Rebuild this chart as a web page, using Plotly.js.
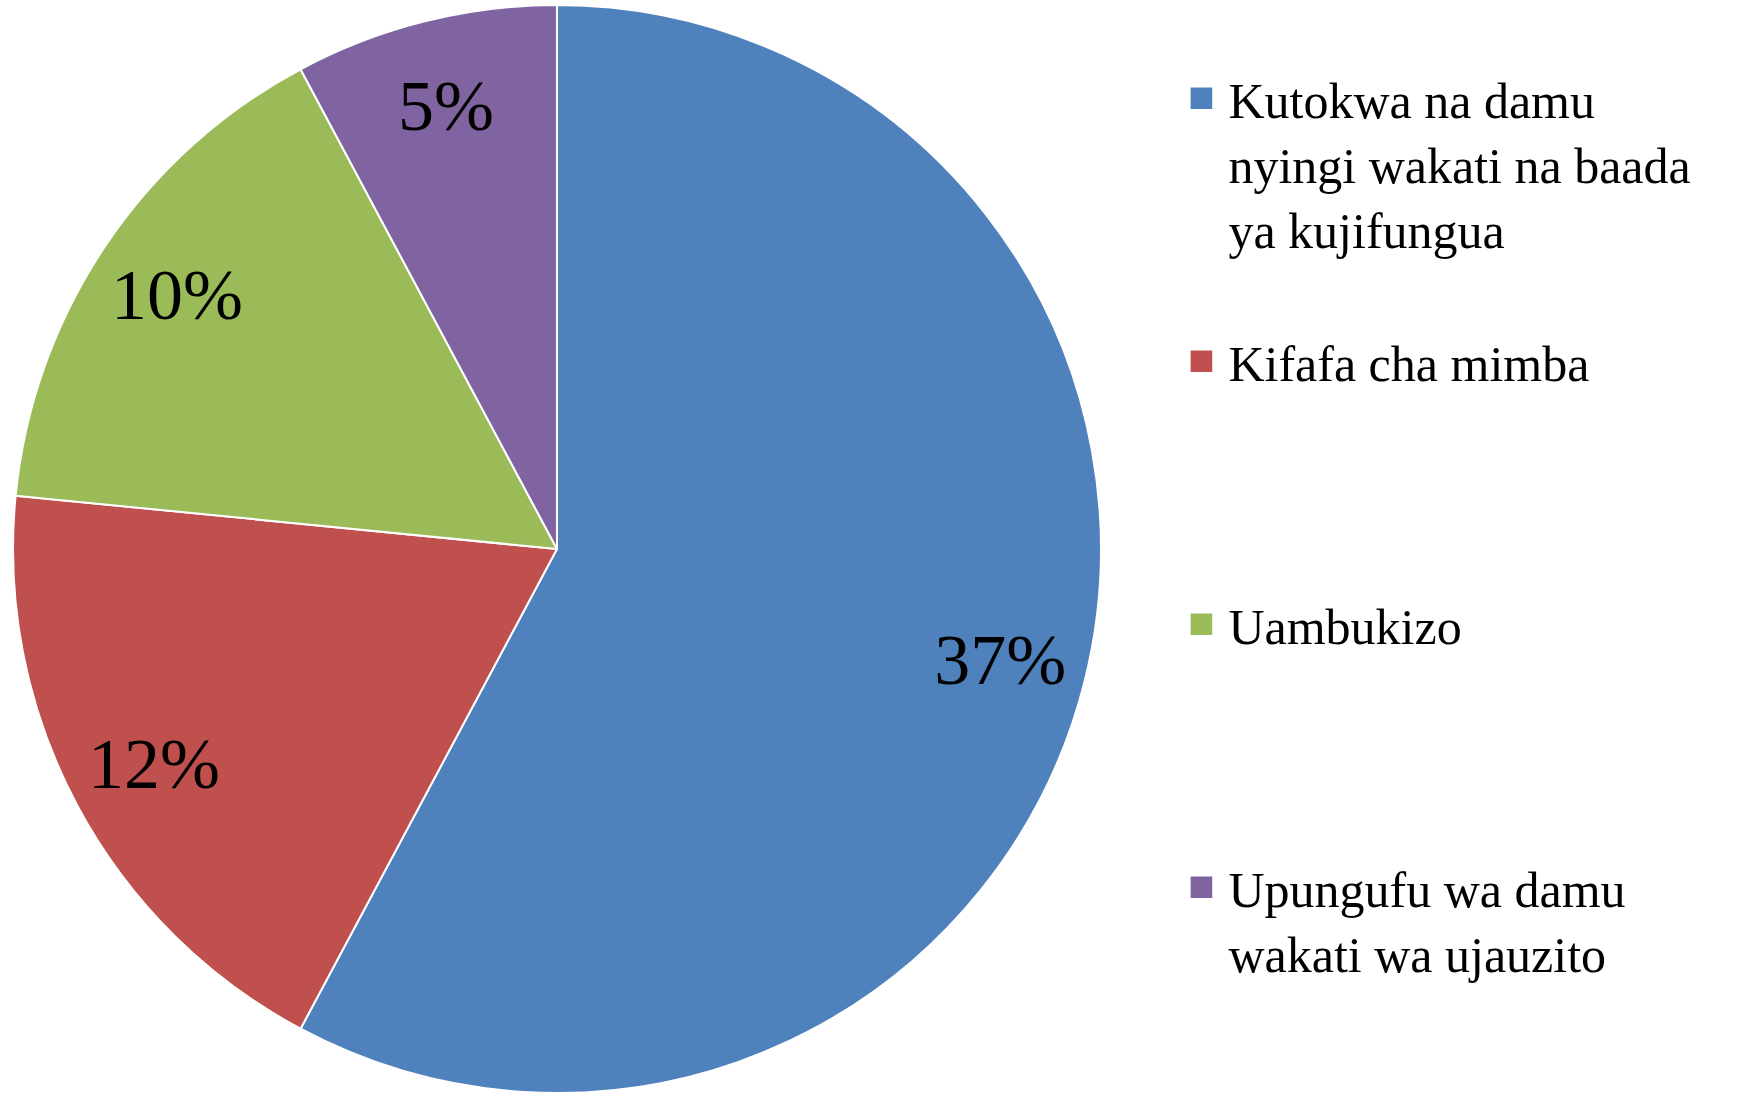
<!DOCTYPE html>
<html>
<head>
<meta charset="utf-8">
<script src="https://cdn.plot.ly/plotly-3.0.1.min.js"></script>
<style>
html,body{margin:0;padding:0;background:#fff;}
#chart{width:1740px;height:1098px;}
#chart .legendpie{transform:translate(13px,0px) scale(1.8);stroke-width:0 !important;}
</style>
</head>
<body>
<div id="chart"></div>
<script>
const categories = [
  "Kutokwa na damu<br>nyingi wakati na baada<br>ya kujifungua",
  "Kifafa cha mimba",
  "Uambukizo",
  "Upungufu wa damu<br>wakati wa ujauzito"
];
const values = [37, 12, 10, 5];
const colors = ["#4F81BD", "#C0504D", "#9BBB59", "#8064A2"];
// blank lines appended to each legend entry so entries are evenly spaced
const legendPad = [1, 3, 3, 0];

const labels = categories.map((c, i) => c + "<br> ".repeat(legendPad[i]));
const texts = values.map(v => v + "%");
const serif = "Liberation Serif, Times New Roman, serif";
const domain = {x: [0.0069, 0.6333], y: [0.0046, 0.9954]};

const pieTrace = {
  type: "pie",
  labels: labels,
  values: values,
  textinfo: "none",
  sort: false,
  direction: "clockwise",
  rotation: 0,
  marker: {colors: colors, line: {color: "#ffffff", width: 2}},
  hoverinfo: "label+value",
  domain: domain
};

// transparent ring carrying the data labels near the outer part of each slice
const labelTrace = {
  type: "pie",
  labels: labels,
  values: values,
  text: texts,
  textinfo: "text",
  textposition: "inside",
  insidetextorientation: "horizontal",
  hole: 0.68,
  sort: false,
  direction: "clockwise",
  rotation: 0,
  showlegend: false,
  marker: {colors: colors.map(() => "rgba(0,0,0,0)"), line: {width: 0}},
  textfont: {family: serif, size: 72, color: "#000000"},
  hoverinfo: "skip",
  domain: domain
};

const layout = {
  width: 1740, height: 1098,
  margin: {l: 0, r: 0, t: 0, b: 0},
  paper_bgcolor: "#ffffff",
  showlegend: true,
  legend: {
    x: 0.683, xanchor: "left", y: 0.946, yanchor: "top",
    font: {family: serif, size: 50, color: "#000000"},
    valign: "top",
    tracegroupgap: 0
  },
  font: {family: serif}
};

Plotly.newPlot("chart", [pieTrace, labelTrace], layout, {displayModeBar: false, staticPlot: true});
</script>
</body>
</html>
